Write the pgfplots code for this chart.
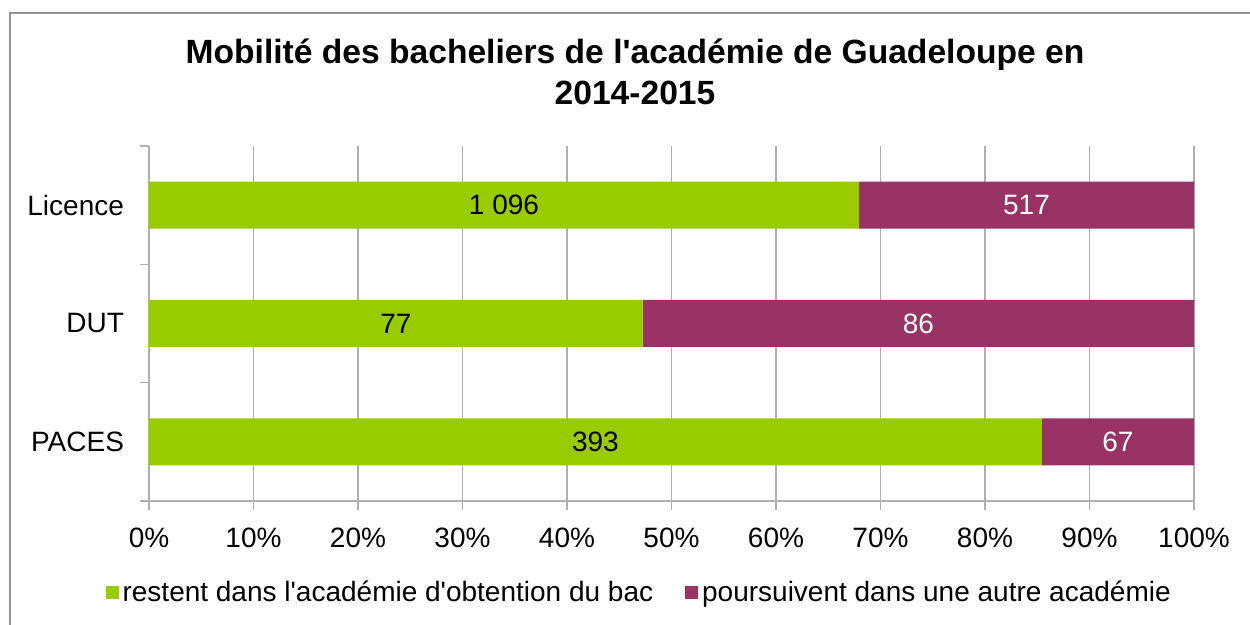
\documentclass[border=0pt]{standalone}
\usepackage{fontspec}
\setmainfont{Liberation Sans}
\usepackage{pgfplots}
\pgfplotsset{compat=1.18}
\definecolor{grn}{HTML}{99CC00}
\definecolor{pur}{HTML}{993366}
\definecolor{gridgray}{HTML}{B0B0B0}
\newcommand{\q}{\textquotesingle}
\begin{document}
\begin{tikzpicture}
\useasboundingbox (0,0) rectangle (625pt,312.5pt);
\fill[white] (0,0) rectangle (625pt,312.5pt);
\draw[color=gray!85, line width=0.7pt] (5pt,0) -- (5pt,306pt) -- (625pt,306pt);
\node[font=\bfseries\fontsize{16.8}{20.5}\selectfont, align=center] at (317.5pt,276.5pt) {Mobilité des bacheliers de l\q{}académie de Guadeloupe en\\2014-2015};
\begin{axis}[
  at={(74.5pt,62pt)}, anchor=south west,
  scale only axis, width=522.5pt, height=177.5pt,
  xbar stacked, bar width=23.5pt,
  xmin=0, xmax=100, ymin=-0.5, ymax=2.5,
  xtick={0,10,...,100},
  xticklabel={\pgfmathprintnumber{\tick}\%},
  xticklabel style={yshift=-5.5pt},
  ytick={-0.5,0.5,1.5,2.5},
  yticklabels={PACES,DUT,Licence,{}},
  yticklabel style={yshift=29.58pt, xshift=-4.5pt},
  /pgf/number format/assume math mode=true,
  ticklabel style={font=\fontsize{14}{16}\selectfont},
  axis lines*=left,
  axis line style={gridgray, line width=0.75pt},
  tick style={gridgray, line width=0.75pt},
  tick align=outside, major tick length=4.5pt,
  xmajorgrids, grid style={gridgray, line width=0.75pt},
  legend style={at={(0.47,-0.259)}, anchor=center, draw=none, legend columns=2,
    font=\fontsize{14}{16}\selectfont,
    /tikz/every even column/.append style={column sep=14pt}},
  legend image code/.code={\fill[#1] (0pt,-3.25pt) rectangle (6.5pt,3.25pt);},
  nodes near coords,
  point meta=explicit symbolic,
  every node near coord/.append style={font=\fontsize{14}{16}\selectfont},
]
\addplot[fill=grn, draw=none, every node near coord/.append style={text=black}]
  coordinates {(85.435,0) [393] (47.239,1) [77] (67.948,2) [{1 096}]};
\addlegendentry{restent dans l\q{}académie d\q{}obtention du bac}
\addplot[fill=pur, draw=none, every node near coord/.append style={text=white}]
  coordinates {(14.565,0) [67] (52.761,1) [86] (32.052,2) [517]};
\addlegendentry{poursuivent dans une autre académie}
\end{axis}
\end{tikzpicture}
\end{document}
